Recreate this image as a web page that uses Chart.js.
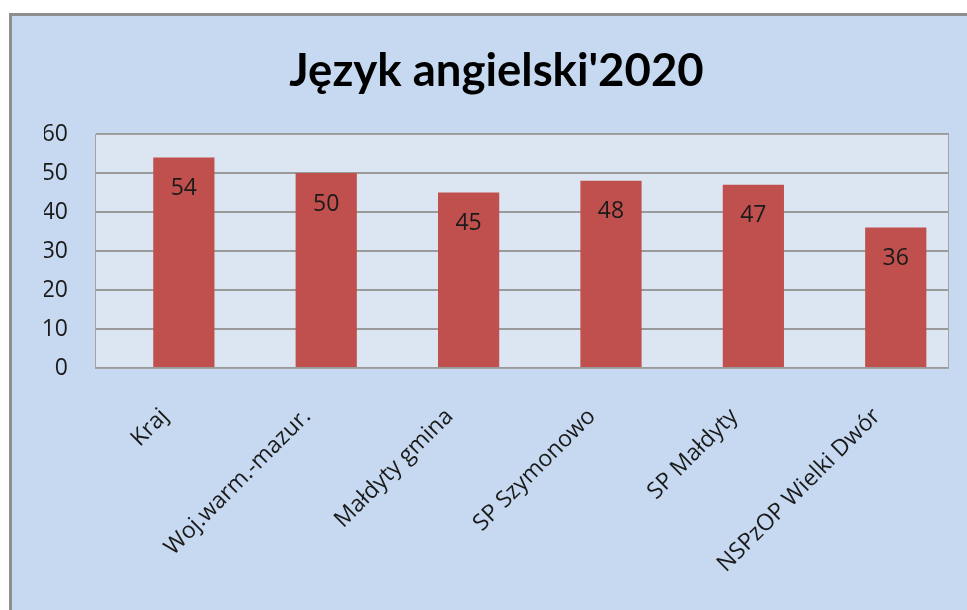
<!DOCTYPE html>
<html>
<head>
<meta charset="utf-8">
<script src="https://cdn.jsdelivr.net/npm/chart.js@4.4.1/dist/chart.umd.min.js"></script>
<style>
    html, body { margin: 0; padding: 0; overflow: hidden; background: #ffffff; }
    #frame {
        position: absolute;
        left: 9px;
        top: 13px;
        width: 990px;
        height: 640px;
        border: 3px solid #8e8e8e;
        background: #c6d9f0;
    }
    #chart { display: block; }
</style>
</head>
<body>
<div id="frame">
    <canvas id="chart" width="967" height="594"></canvas>
</div>
<script>
// Dane wykresu
const chartTitle = "Język angielski'2020";
const categories = ['Kraj', 'Woj.warm.-mazur.', 'Małdyty gmina', 'SP Szymonowo', 'SP Małdyty', 'NSPzOP Wielki Dwór'];
const values = [54, 50, 45, 48, 47, 36];
const yTicks = [0, 10, 20, 30, 40, 50, 60];

const fontFamily = "'Open Sans', 'DejaVu Sans', sans-serif";
const titleFamily = "Lato, 'Open Sans', sans-serif";

// Tło obszaru wykresu, ramka i etykiety wartości
const plotAreaPlugin = {
    id: 'plotArea',
    beforeDraw(chart) {
        const { ctx, chartArea: a } = chart;
        ctx.save();
        ctx.fillStyle = '#dce6f2';
        ctx.fillRect(a.left, a.top, a.right - a.left, a.bottom - a.top);
        ctx.restore();
    },
    afterDraw(chart) {
        const { ctx, chartArea: a } = chart;
        ctx.save();
        ctx.strokeStyle = '#a3a3a3';
        ctx.lineWidth = 1;
        ctx.strokeRect(a.left + 0.5, a.top + 0.5, a.right - a.left - 1, a.bottom - a.top);
        ctx.restore();
    },
    afterDatasetsDraw(chart) {
        const { ctx } = chart;
        const meta = chart.getDatasetMeta(0);
        ctx.save();
        ctx.font = '23px ' + fontFamily;
        ctx.fillStyle = '#1a1a1a';
        ctx.textAlign = 'center';
        ctx.textBaseline = 'middle';
        meta.data.forEach((bar, i) => {
            ctx.fillText(String(values[i]), bar.x, bar.y + 31);
        });
        ctx.restore();
    }
};

new Chart(document.getElementById('chart'), {
    type: 'bar',
    data: {
        datasets: [{
            data: values.map((v, i) => ({ x: i, y: v })),
            backgroundColor: '#c0504d',
            borderWidth: 0,
            categoryPercentage: 1,
            barPercentage: 0.43
        }]
    },
    options: {
        responsive: false,
        animation: false,
        devicePixelRatio: 1,
        layout: { padding: { left: 32, right: 30, top: 0, bottom: 0 } },
        plugins: {
            legend: { display: false },
            tooltip: { enabled: false },
            title: {
                display: true,
                text: chartTitle,
                color: '#000000',
                font: { family: titleFamily, size: 45.5, weight: 'bold', lineHeight: 1.2 },
                padding: { top: 28.2, bottom: 35.2 }
            }
        },
        scales: {
            x: {
                type: 'linear',
                offset: false,
                min: -0.624,
                max: 5.374,
                afterBuildTicks(scale) { scale.ticks = categories.map((c, i) => ({ value: i })); },
                grid: { display: false },
                border: { display: false },
                ticks: {
                    autoSkip: false,
                    minRotation: 45,
                    maxRotation: 45,
                    padding: 27,
                    labelOffset: -19,
                    color: '#1a1a1a',
                    font: { family: fontFamily, size: 23 },
                    callback: (v) => categories[v]
                },
                afterFit(scale) { scale.height = 242; }
            },
            y: {
                min: 0,
                max: 60,
                afterBuildTicks(scale) { scale.ticks = yTicks.map(v => ({ value: v })); },
                grid: { color: '#9a9a9a', lineWidth: 2, drawTicks: false },
                border: { display: true, color: '#a3a3a3', width: 1 },
                ticks: {
                    padding: 27,
                    color: '#1a1a1a',
                    font: { family: fontFamily, size: 23 }
                },
                afterFit(scale) { scale.width = 51; }
            }
        }
    },
    plugins: [plotAreaPlugin]
});
</script>
</body>
</html>
